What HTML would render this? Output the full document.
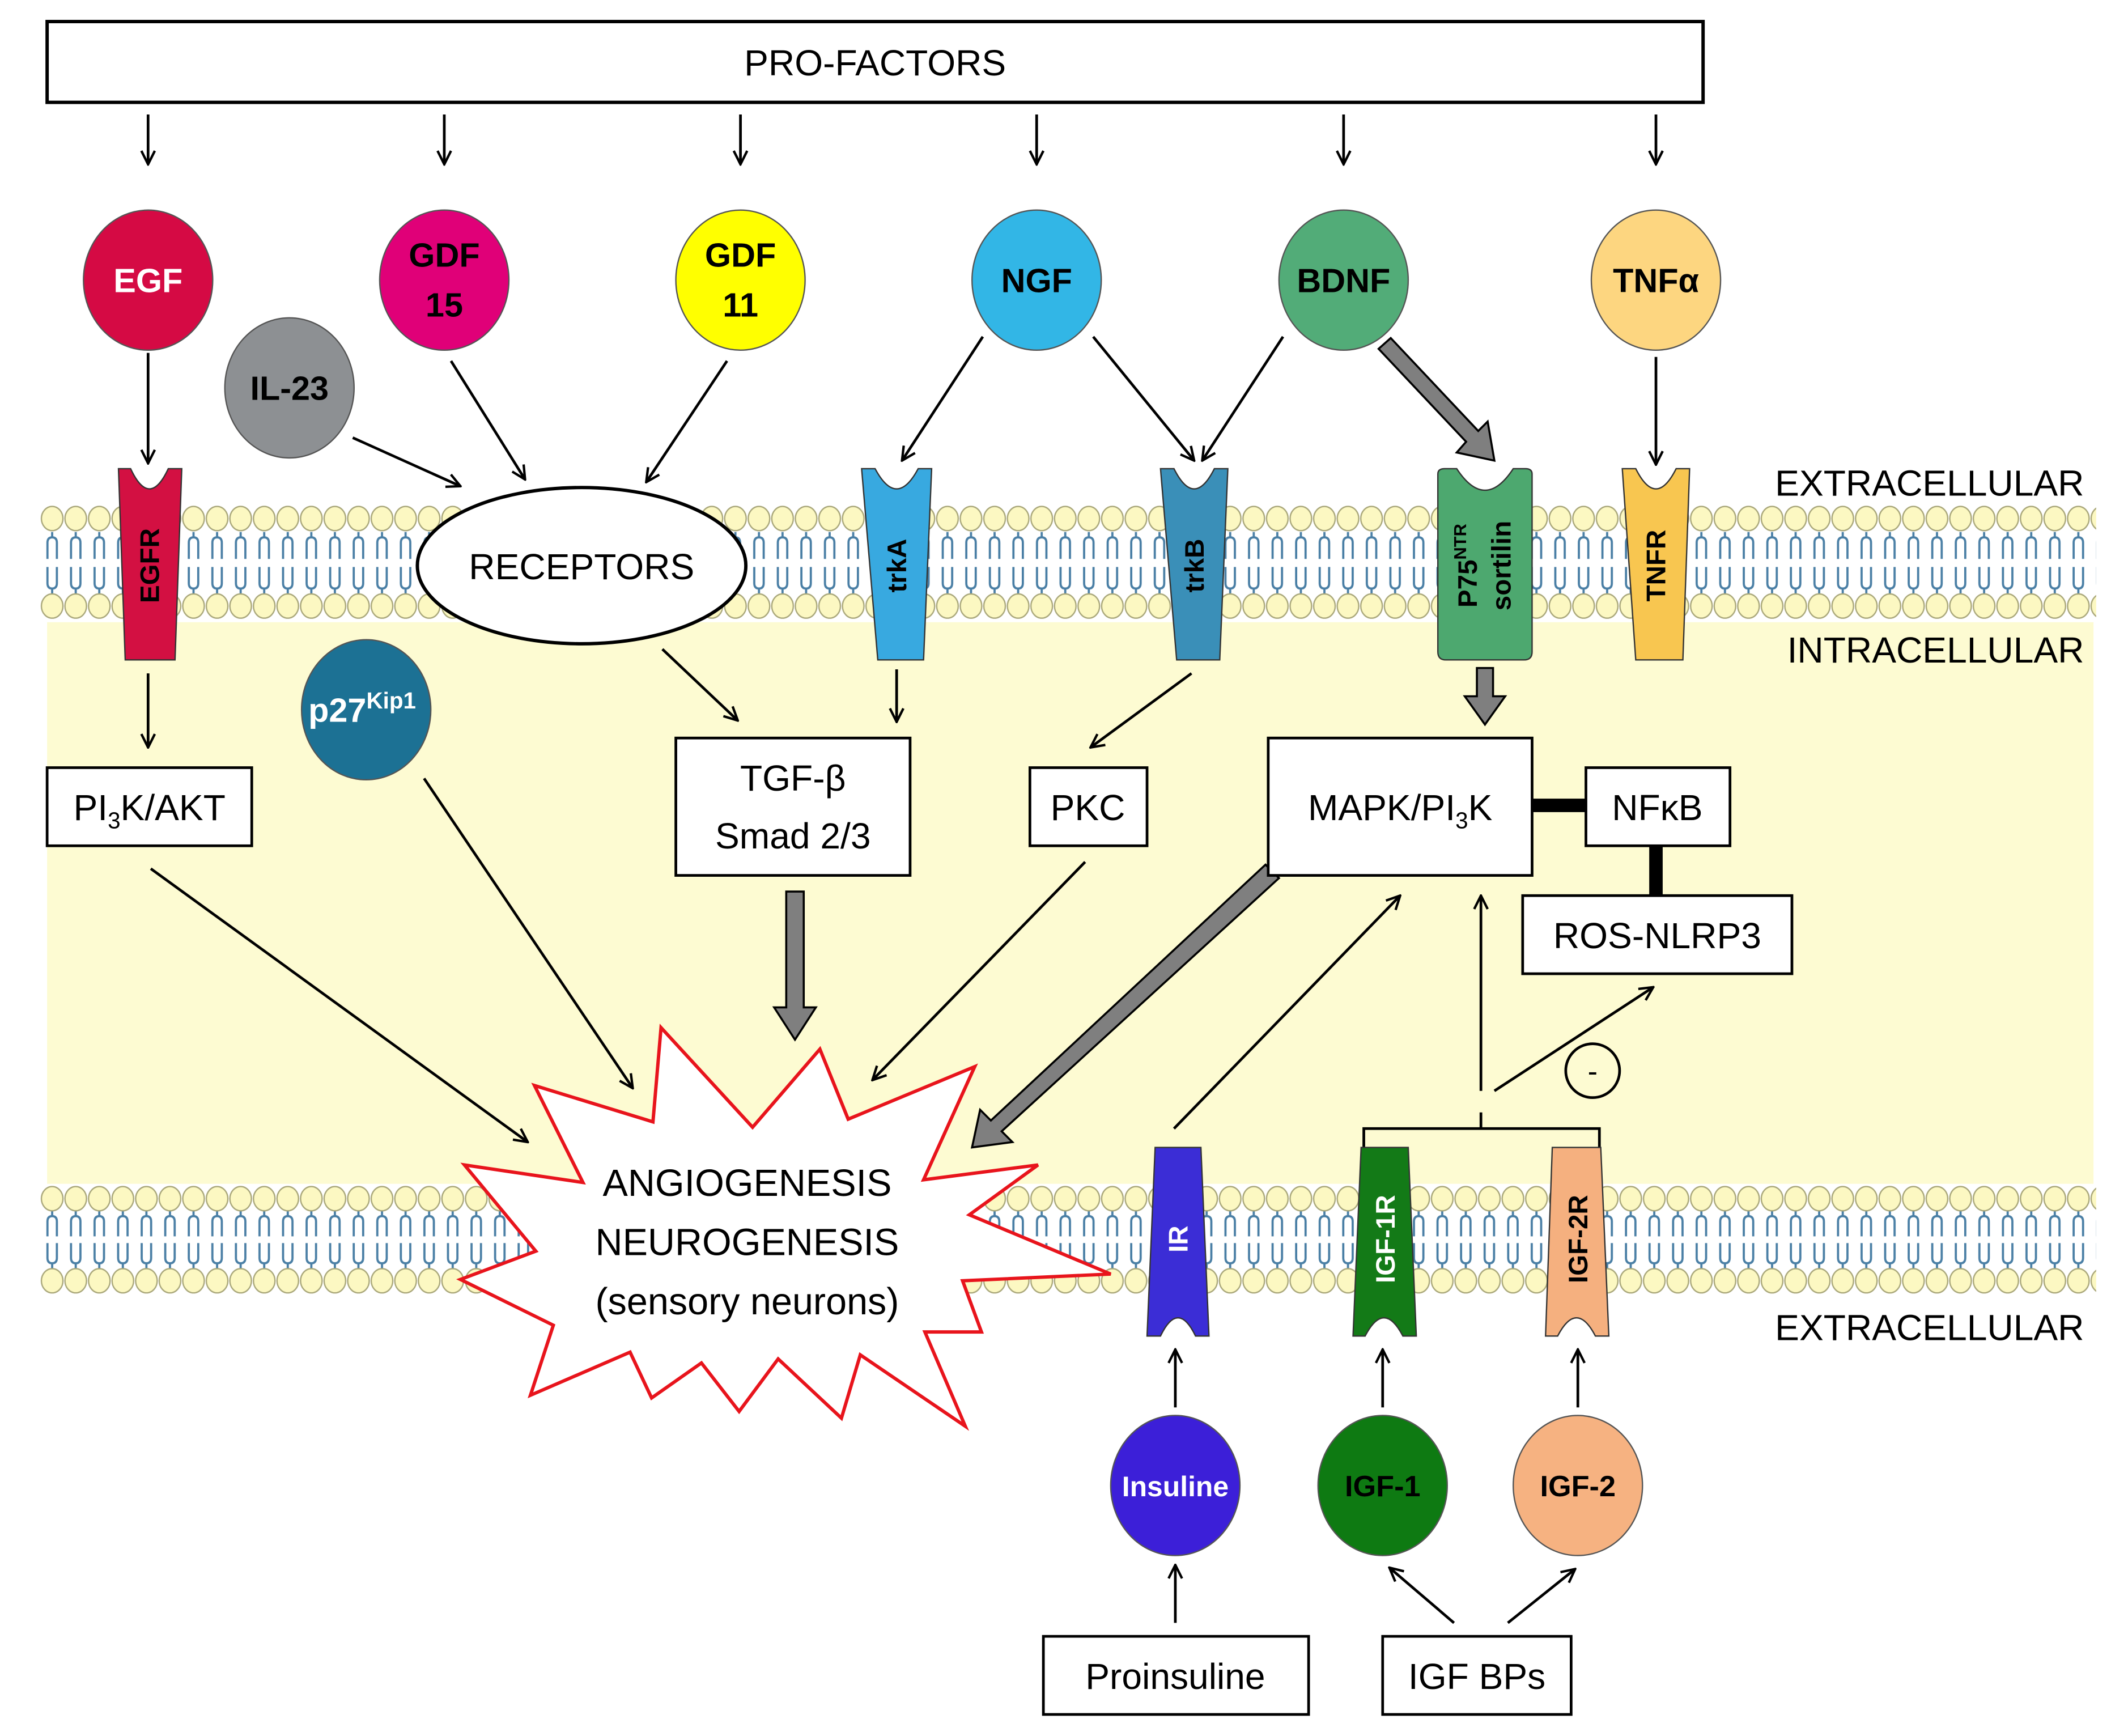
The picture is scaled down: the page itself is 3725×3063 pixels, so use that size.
<!DOCTYPE html>
<html><head><meta charset="utf-8"><style>
html,body{margin:0;padding:0;background:#fff}
svg{display:block}
text{font-family:"Liberation Sans",sans-serif}
.t{font-family:"Liberation Sans",sans-serif;font-size:27px;fill:#000}
.b{font-weight:bold;font-size:24px}
</style></head><body>
<svg width="3725" height="3063" viewBox="0 0 1568 1289" preserveAspectRatio="none" xmlns="http://www.w3.org/2000/svg">
<defs>
<marker id="ah" viewBox="0 0 12 12" refX="11" refY="6" markerWidth="12" markerHeight="12" markerUnits="userSpaceOnUse" orient="auto">
<path d="M1 1 L11 6 L1 11" fill="none" stroke="#000" stroke-width="1.8"/></marker>
<pattern id="mem" x="30" y="372" width="17.5" height="90" patternUnits="userSpaceOnUse">
<g fill="none" stroke="#4a7fa5" stroke-width="1.6">
<path d="M8.75 23 v4 M8.75 27 q-3.5 0 -3.5 4 v12 M8.75 27 q3.5 0 3.5 4 v12"/>
<path d="M8.75 69 v-4 M8.75 65 q-3.5 0 -3.5 -4 v-12 M8.75 65 q3.5 0 3.5 -4 v-12"/>
</g>
<ellipse cx="8.75" cy="13" rx="8" ry="9" fill="#fcf8c2" stroke="#a9a77a" stroke-width="1"/>
<ellipse cx="8.75" cy="78" rx="8" ry="9" fill="#fcf8c2" stroke="#a9a77a" stroke-width="1"/>
</pattern>
<pattern id="mem2" x="30" y="877" width="17.5" height="86" patternUnits="userSpaceOnUse">
<g fill="none" stroke="#4a7fa5" stroke-width="1.6">
<path d="M8.75 22 v4 M8.75 26 q-3.5 0 -3.5 4 v11 M8.75 26 q3.5 0 3.5 4 v11"/>
<path d="M8.75 65 v-4 M8.75 61 q-3.5 0 -3.5 -4 v-11 M8.75 61 q3.5 0 3.5 -4 v-11"/>
</g>
<ellipse cx="8.75" cy="13" rx="8" ry="9" fill="#fcf8c2" stroke="#a9a77a" stroke-width="1"/>
<ellipse cx="8.75" cy="74" rx="8" ry="9" fill="#fcf8c2" stroke="#a9a77a" stroke-width="1"/>
</pattern>
</defs>

<!-- intracellular -->
<rect x="35" y="455" width="1520" height="435" fill="#fdfbd2"/>
<rect x="30" y="374" width="1527" height="88" fill="#fff"/>
<rect x="30" y="374" width="1527" height="88" fill="url(#mem)"/>
<rect x="30" y="879" width="1527" height="84" fill="#fff"/>
<rect x="30" y="879" width="1527" height="84" fill="url(#mem2)"/>

<!-- PRO-FACTORS -->
<rect x="35" y="16" width="1230" height="60" fill="#fff" stroke="#000" stroke-width="2.5"/>
<text class="t" x="650" y="56" text-anchor="middle">PRO-FACTORS</text>
<g stroke="#000" stroke-width="2" marker-end="url(#ah)">
<line x1="110" y1="85" x2="110" y2="122"/><line x1="330" y1="85" x2="330" y2="122"/>
<line x1="550" y1="85" x2="550" y2="122"/><line x1="770" y1="85" x2="770" y2="122"/>
<line x1="998" y1="85" x2="998" y2="122"/><line x1="1230" y1="85" x2="1230" y2="122"/>
</g>

<!-- thin arrows -->
<g stroke="#000" stroke-width="2" fill="none" marker-end="url(#ah)">
<line x1="110" y1="262" x2="110" y2="344"/>
<line x1="335" y1="268" x2="390" y2="356"/>
<line x1="540" y1="268" x2="480" y2="358"/>
<line x1="262" y1="325" x2="342" y2="361"/>
<line x1="730" y1="250" x2="670" y2="342"/>
<line x1="812" y1="250" x2="887" y2="342"/>
<line x1="953" y1="250" x2="893" y2="342"/>
<line x1="1230" y1="265" x2="1230" y2="345"/>
<line x1="110" y1="500" x2="110" y2="555"/>
<line x1="492" y1="482" x2="548" y2="535"/>
<line x1="666" y1="497" x2="666" y2="536"/>
<line x1="885" y1="500" x2="810" y2="555"/>
<line x1="112" y1="645" x2="392" y2="848"/>
<line x1="315" y1="578" x2="470" y2="808"/>
<line x1="806" y1="640" x2="648" y2="802"/>
<line x1="872" y1="838" x2="1040" y2="665"/>
<line x1="1100" y1="810" x2="1100" y2="665"/>
<line x1="1110" y1="810" x2="1228" y2="733"/>
<line x1="873" y1="1205" x2="873" y2="1162"/>
<line x1="1080" y1="1205" x2="1032" y2="1164"/>
<line x1="1120" y1="1205" x2="1170" y2="1165"/>
<line x1="873" y1="1045" x2="873" y2="1002"/>
<line x1="1027" y1="1045" x2="1027" y2="1002"/>
<line x1="1172" y1="1045" x2="1172" y2="1002"/>
</g>
<path d="M1013 852 V838 H1188 V852 M1100 838 V826" fill="none" stroke="#000" stroke-width="2"/>
<circle cx="1183" cy="795" r="20" fill="none" stroke="#000" stroke-width="2"/>
<text x="1183" y="803" font-size="22" text-anchor="middle">-</text>

<!-- thick gray arrows -->
<g fill="#7f7f7f" stroke="#000" stroke-width="1.5">
<path d="M1024 259 L1033 251 L1098 320 L1105 313 L1110 342 L1082 336 L1089 328 Z"/>
<path d="M1097 496 H1109 V517 H1118 L1103 538 L1088 517 H1097 Z"/>
<path d="M584 662 H597 V748 H606 L590.5 772 L575 748 H584 Z"/>
<path d="M940 642 L950 652 L744 840 L752 848 L722 852 L728 824 L736 832 Z"/>
</g>

<!-- thick black connectors -->
<rect x="1138" y="593" width="40" height="10" fill="#000"/>
<rect x="1225" y="628" width="10" height="38" fill="#000"/>

<!-- ligand circles -->
<g stroke="#555" stroke-width="1">
<ellipse cx="110" cy="208" rx="48" ry="52" fill="#d50a44"/>
<ellipse cx="330" cy="208" rx="48" ry="52" fill="#e00078"/>
<ellipse cx="550" cy="208" rx="48" ry="52" fill="#ffff00"/>
<ellipse cx="770" cy="208" rx="48" ry="52" fill="#32b6e6"/>
<ellipse cx="998" cy="208" rx="48" ry="52" fill="#52ac78"/>
<ellipse cx="1230" cy="208" rx="48" ry="52" fill="#fdd680"/>
<ellipse cx="215" cy="288" rx="48" ry="52" fill="#8d9093"/>
<ellipse cx="272" cy="527" rx="48" ry="52" fill="#1c7194"/>
<ellipse cx="873" cy="1103" rx="48" ry="52" fill="#3c1fd8"/>
<ellipse cx="1027" cy="1103" rx="48" ry="52" fill="#0e7a12"/>
<ellipse cx="1172" cy="1103" rx="48" ry="52" fill="#f6b281"/>
</g>
<g font-weight="bold" font-size="25" text-anchor="middle">
<text x="110" y="217" fill="#fff">EGF</text>
<text x="330" y="198">GDF</text><text x="330" y="235">15</text>
<text x="550" y="198">GDF</text><text x="550" y="235">11</text>
<text x="770" y="217">NGF</text>
<text x="998" y="217">BDNF</text>
<text x="1230" y="217">TNFα</text>
<text x="215" y="297">IL-23</text>
<text x="269" y="536" fill="#fff">p27<tspan font-size="17" dy="-10">Kip1</tspan></text>
<text x="873" y="1111" fill="#fff" font-size="21">Insuline</text>
<text x="1027" y="1111" font-size="22">IGF-1</text>
<text x="1172" y="1111" font-size="22">IGF-2</text>
</g>

<!-- top receptors -->
<g stroke="#333" stroke-width="1">
<path d="M88 348 H97 Q111 378 125 348 H135 L130 490 H93 Z" fill="#d31042"/>
<path d="M640 348 H650 Q666 378 682 348 H692 L686 490 H652 Z" fill="#38a9e0"/>
<path d="M862 348 H872 Q887 378 902 348 H912 L906 490 H874 Z" fill="#3a8fb8"/>
<path d="M1068 352 Q1068 348 1073 348 H1082 Q1103 380 1124 348 H1133 Q1138 348 1138 352 V484 Q1138 490 1132 490 H1074 Q1068 490 1068 484 Z" fill="#4da86f"/>
<path d="M1205 348 H1215 Q1230 378 1245 348 H1255 L1250 490 H1215 Z" fill="#f8c650"/>
<!-- bottom receptors inverted -->
<path d="M858 852 H892 L898 992 H888 Q875 965 862 992 H852 Z" fill="#3b2dd6"/>
<path d="M1011 852 H1046 L1052 992 H1042 Q1028 965 1014 992 H1005 Z" fill="#137a17"/>
<path d="M1153 852 H1189 L1195 992 H1185 Q1171 965 1157 992 H1148 Z" fill="#f5b07f"/>
</g>
<g font-weight="bold" font-size="20" text-anchor="middle">
<text transform="translate(118,420) rotate(-90)">EGFR</text>
<text transform="translate(673,420) rotate(-90)">trkA</text>
<text transform="translate(894,420) rotate(-90)">trkB</text>
<text transform="translate(1097,420) rotate(-90)">P75<tspan font-size="13" dy="-8">NTR</tspan></text>
<text transform="translate(1122,420) rotate(-90)" dy="0">sortilin</text>
<text transform="translate(1237,420) rotate(-90)">TNFR</text>
<text transform="translate(882,920) rotate(-90)" fill="#fff">IR</text>
<text transform="translate(1036,920) rotate(-90)" fill="#fff">IGF-1R</text>
<text transform="translate(1179,920) rotate(-90)">IGF-2R</text>
</g>

<!-- RECEPTORS ellipse -->
<ellipse cx="432" cy="420" rx="122" ry="58" fill="#fff" stroke="#000" stroke-width="2.5"/>
<text class="t" x="432" y="430" text-anchor="middle">RECEPTORS</text>

<g font-size="27" text-anchor="end">
<text x="1548" y="368">EXTRACELLULAR</text>
<text x="1548" y="492">INTRACELLULAR</text>
<text x="1548" y="995">EXTRACELLULAR</text>
</g>

<!-- boxes -->
<g fill="#fff" stroke="#000" stroke-width="2">
<rect x="35" y="570" width="152" height="58"/>
<rect x="502" y="548" width="174" height="102"/>
<rect x="765" y="570" width="87" height="58"/>
<rect x="942" y="548" width="196" height="102"/>
<rect x="1178" y="570" width="107" height="58"/>
<rect x="1131" y="665" width="200" height="58"/>
<rect x="775" y="1215" width="197" height="58"/>
<rect x="1027" y="1215" width="140" height="58"/>
</g>
<g font-size="27" text-anchor="middle">
<text x="111" y="609">PI<tspan font-size="17" dy="6">3</tspan><tspan dy="-6">K/AKT</tspan></text>
<text x="589" y="587">TGF-β</text><text x="589" y="630">Smad 2/3</text>
<text x="808" y="609">PKC</text>
<text x="1040" y="609">MAPK/PI<tspan font-size="17" dy="6">3</tspan><tspan dy="-6">K</tspan></text>
<text x="1231" y="609">NFκB</text>
<text x="1231" y="704">ROS-NLRP3</text>
<text x="873" y="1254">Proinsuline</text>
<text x="1097" y="1254">IGF BPs</text>
</g>

<!-- starburst -->
<polygon points="491,763 559,837 609,779 630,831 724,792 686,876 771,865 720,902 825,946 715,951 729,989 687,989 717,1059 639,1006 625,1053 578,1009 549,1048 521,1012 484,1038 468,1004 394,1036 411,984 342,950 398,929 345,865 433,878 397,806 485,833" fill="#fff" stroke="#e8141c" stroke-width="2.5" stroke-linejoin="miter"/>
<g font-size="28" text-anchor="middle">
<text x="555" y="888">ANGIOGENESIS</text>
<text x="555" y="932">NEUROGENESIS</text>
<text x="555" y="976">(sensory neurons)</text>
</g>
</svg>
</body></html>
